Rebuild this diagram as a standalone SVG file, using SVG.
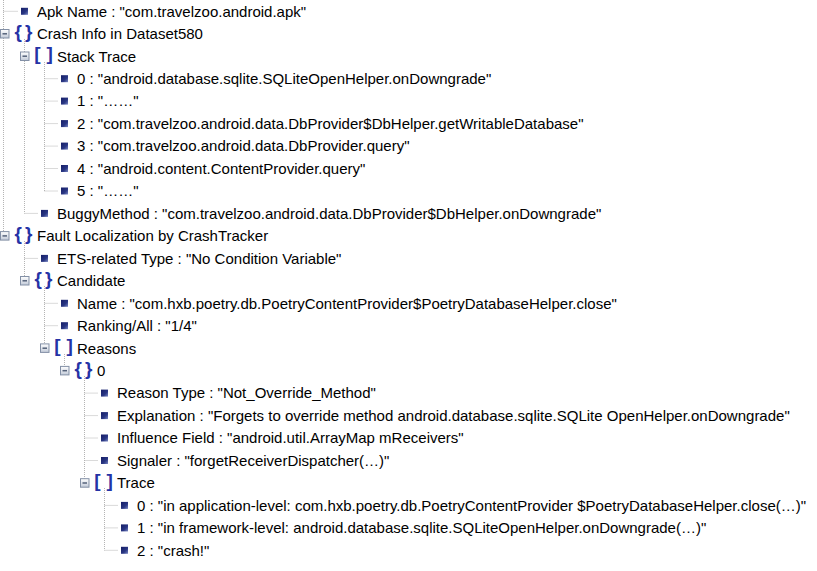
<svg xmlns="http://www.w3.org/2000/svg" width="817" height="571" viewBox="0 0 817 571">
<style>
  .t { font-family: "Liberation Sans", Arial, sans-serif; font-size: 15px; fill: #000; }
  .ic { font-family: "Liberation Sans", Arial, sans-serif; font-size: 19px; font-weight: bold; fill: #2533a6; }
  .dl { stroke: #b4b4b4; stroke-width: 1; stroke-dasharray: 1 1; fill: none; }
  .bx { fill: url(#bg); stroke: #8390a6; stroke-width: 1; }
  .mn { stroke: #55627a; stroke-width: 1.5; }
  .bl { fill: url(#bul); }
</style>
<defs>
  <linearGradient id="bg" x1="0" y1="0" x2="0" y2="1">
    <stop offset="0" stop-color="#ffffff"/>
    <stop offset="1" stop-color="#c2cad8"/>
  </linearGradient>
  <linearGradient id="bul" x1="0" y1="0" x2="1" y2="1">
    <stop offset="0" stop-color="#141c66"/>
    <stop offset="0.6" stop-color="#2a3784"/>
    <stop offset="1" stop-color="#7a88c4"/>
  </linearGradient>
</defs>
<rect width="817" height="571" fill="#fff"/>

<g id="connectors">
  <path class="dl" d="M3.5 0V235.9 M3.5 11.3H18"/>
  <path class="dl" d="M24.5 39V213.4 M24.5 213.4H38"/>
  <path class="dl" d="M44.5 62V191 M44.5 78.7H58 M44.5 101.1H58 M44.5 123.6H58 M44.5 146.1H58 M44.5 168.5H58 M44.5 191H58"/>
  <path class="dl" d="M24.5 241V280.8 M24.5 258.4H38"/>
  <path class="dl" d="M44.5 286V348.2 M44.5 303.3H58 M44.5 325.7H58"/>
  <path class="dl" d="M64.5 354V370.7"/>
  <path class="dl" d="M84.5 376V483 M84.5 393.1H98 M84.5 415.6H98 M84.5 438H98 M84.5 460.5H98"/>
  <path class="dl" d="M104.5 488V550.3 M104.5 505.4H118 M104.5 527.9H118 M104.5 550.3H118"/>
</g>

<g id="apk-name">
  <rect class="bl" x="21" y="7.8" width="7" height="7"/>
  <text class="t" x="37" y="16.6">Apk Name : "com.travelzoo.android.apk"</text>
</g>

<g id="crash-info">
  <rect class="bx" x="0.5" y="29.5" width="8.5" height="8.5"/>
  <line class="mn" x1="2.5" y1="33.8" x2="7" y2="33.8"/>
  <text class="ic" x="14.5 25" y="37.8">{}</text>
  <text class="t" x="37" y="39.1">Crash Info in Dataset580</text>
</g>

<g id="stack-trace">
  <rect class="bx" x="20.5" y="52" width="8.5" height="8.5"/>
  <line class="mn" x1="22.5" y1="56.2" x2="27" y2="56.2"/>
  <text class="ic" x="34.2 46.5" y="60.2">[]</text>
  <text class="t" x="57" y="61.5">Stack Trace</text>
</g>

<g id="st-0">
  <rect class="bl" x="61" y="75.2" width="7" height="7"/>
  <text class="t" x="77" y="84">0 : "android.database.sqlite.SQLiteOpenHelper.onDowngrade"</text>
</g>
<g id="st-1">
  <rect class="bl" x="61" y="97.6" width="7" height="7"/>
  <text class="t" x="77" y="106.4">1 : "……"</text>
</g>
<g id="st-2">
  <rect class="bl" x="61" y="120.1" width="7" height="7"/>
  <text class="t" x="77" y="128.9">2 : "com.travelzoo.android.data.DbProvider$DbHelper.getWritableDatabase"</text>
</g>
<g id="st-3">
  <rect class="bl" x="61" y="142.6" width="7" height="7"/>
  <text class="t" x="77" y="151.4">3 : "com.travelzoo.android.data.DbProvider.query"</text>
</g>
<g id="st-4">
  <rect class="bl" x="61" y="165" width="7" height="7"/>
  <text class="t" x="77" y="173.8">4 : "android.content.ContentProvider.query"</text>
</g>
<g id="st-5">
  <rect class="bl" x="61" y="187.5" width="7" height="7"/>
  <text class="t" x="77" y="196.3">5 : "……"</text>
</g>

<g id="buggy-method">
  <rect class="bl" x="41" y="209.9" width="7" height="7"/>
  <text class="t" x="57" y="218.7">BuggyMethod : "com.travelzoo.android.data.DbProvider$DbHelper.onDowngrade"</text>
</g>

<g id="fault-localization">
  <rect class="bx" x="0.5" y="231.6" width="8.5" height="8.5"/>
  <line class="mn" x1="2.5" y1="235.9" x2="7" y2="235.9"/>
  <text class="ic" x="14.5 25" y="239.9">{}</text>
  <text class="t" x="37" y="241.2">Fault Localization by CrashTracker</text>
</g>

<g id="ets-type">
  <rect class="bl" x="41" y="254.9" width="7" height="7"/>
  <text class="t" x="57" y="263.7">ETS-related Type : "No Condition Variable"</text>
</g>

<g id="candidate">
  <rect class="bx" x="20.5" y="276.5" width="8.5" height="8.5"/>
  <line class="mn" x1="22.5" y1="280.8" x2="27" y2="280.8"/>
  <text class="ic" x="34.5 45" y="284.8">{}</text>
  <text class="t" x="57" y="286.1">Candidate</text>
</g>

<g id="name">
  <rect class="bl" x="61" y="299.8" width="7" height="7"/>
  <text class="t" x="77" y="308.6">Name : "com.hxb.poetry.db.PoetryContentProvider$PoetryDatabaseHelper.close"</text>
</g>
<g id="ranking">
  <rect class="bl" x="61" y="322.2" width="7" height="7"/>
  <text class="t" x="77" y="331">Ranking/All : "1/4"</text>
</g>

<g id="reasons">
  <rect class="bx" x="40.5" y="343.9" width="8.5" height="8.5"/>
  <line class="mn" x1="42.5" y1="348.2" x2="47" y2="348.2"/>
  <text class="ic" x="54.2 66.5" y="352.2">[]</text>
  <text class="t" x="77" y="353.5">Reasons</text>
</g>

<g id="reason-0">
  <rect class="bx" x="60.5" y="366.4" width="8.5" height="8.5"/>
  <line class="mn" x1="62.5" y1="370.7" x2="67" y2="370.7"/>
  <text class="ic" x="74.5 85" y="374.7">{}</text>
  <text class="t" x="97" y="376">0</text>
</g>

<g id="reason-type">
  <rect class="bl" x="101" y="389.6" width="7" height="7"/>
  <text class="t" x="117" y="398.4">Reason Type : "Not_Override_Method"</text>
</g>
<g id="explanation">
  <rect class="bl" x="101" y="412.1" width="7" height="7"/>
  <text class="t" x="117" y="420.9">Explanation : "Forgets to override method android.database.sqlite.SQLite OpenHelper.onDowngrade"</text>
</g>
<g id="influence-field">
  <rect class="bl" x="101" y="434.5" width="7" height="7"/>
  <text class="t" x="117" y="443.3">Influence Field : "android.util.ArrayMap mReceivers"</text>
</g>
<g id="signaler">
  <rect class="bl" x="101" y="457" width="7" height="7"/>
  <text class="t" x="117" y="465.8">Signaler : "forgetReceiverDispatcher(…)"</text>
</g>

<g id="trace">
  <rect class="bx" x="80.5" y="478.7" width="8.5" height="8.5"/>
  <line class="mn" x1="82.5" y1="483" x2="87" y2="483"/>
  <text class="ic" x="94.2 106.5" y="487">[]</text>
  <text class="t" x="117" y="488.3">Trace</text>
</g>

<g id="trace-0">
  <rect class="bl" x="121" y="501.9" width="7" height="7"/>
  <text class="t" x="137" y="510.7">0 : "in application-level: com.hxb.poetry.db.PoetryContentProvider $PoetryDatabaseHelper.close(…)"</text>
</g>
<g id="trace-1">
  <rect class="bl" x="121" y="524.4" width="7" height="7"/>
  <text class="t" x="137" y="533.2">1 : "in framework-level: android.database.sqlite.SQLiteOpenHelper.onDowngrade(…)"</text>
</g>
<g id="trace-2">
  <rect class="bl" x="121" y="546.8" width="7" height="7"/>
  <text class="t" x="137" y="555.6">2 : "crash!"</text>
</g>
</svg>
